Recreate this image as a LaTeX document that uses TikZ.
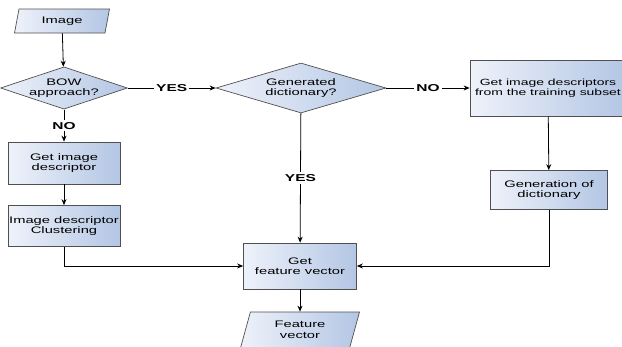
\documentclass[tikz,border=0pt]{standalone}
\usepackage{fontspec}
\setmainfont{Liberation Sans}[FakeStretch=1.55]
\usetikzlibrary{shapes.geometric, arrows.meta}
\definecolor{boxlight}{HTML}{EEF2FA}
\definecolor{boxdark}{HTML}{B3C6E4}
\definecolor{boxline}{HTML}{505050}
\tikzset{>={Stealth[length=6pt,width=5pt]},
every node/.style={font=\fontsize{9.5}{10.5}\selectfont, align=center},
process/.style={draw=boxline, line width=0.7pt, left color=boxlight, right color=boxdark, inner sep=0pt},
decision/.style={process, diamond, shape aspect=3, inner sep=0pt},
io/.style={process, trapezium, trapezium left angle=62, trapezium right angle=118, trapezium stretches body},
answer/.style={fill=white, inner sep=2pt, font=\fontsize{10}{11}\selectfont\bfseries},
flow/.style={->, line width=0.8pt}}
\begin{document}
\begin{tikzpicture}[x=1pt, y=-1pt]
\clip (0,0) rectangle (622,346);
\useasboundingbox (0,0) rectangle (622,346);
% left column
\node[io, minimum width=95pt, minimum height=24pt] (img) at (62,21) {Image};
\node[decision, minimum width=118pt, minimum height=40pt] (bow) at (64,88) {BOW\\approach?};
\node[process, minimum width=112pt, minimum height=42pt] (desc) at (64,163) {Get image\\descriptor};
\node[process, minimum width=112pt, minimum height=41pt] (clus) at (64,226) {Image descriptor\\Clustering};
% middle column
\node[decision, minimum width=170pt, minimum height=50pt] (gen) at (301,88) {Generated\\dictionary?};
\node[process, minimum width=113pt, minimum height=46pt] (fv) at (300,266) {Get\\feature vector};
\node[io, trapezium left angle=60, trapezium right angle=120, minimum width=119pt, minimum height=36pt] (feat) at (300,330) {Feature\\vector};
% right column
\node[process, minimum width=156pt, minimum height=56pt, font=\fontsize{9}{10.5}\selectfont] (train) at (548,88) {Get image descriptors\\from the training subset};
\node[process, minimum width=117pt, minimum height=39pt] (dict) at (549,190) {Generation of\\dictionary};
% connectors
\draw[flow] (img) -- (bow);
\draw[flow] (bow) -- node[answer] {YES} (gen);
\draw[flow] (bow) -- node[answer] {NO} (desc);
\draw[flow] (desc) -- (clus);
\draw[flow] (clus) |- (fv);
\draw[flow] (gen) -- node[answer] {NO} (train);
\draw[flow] (gen) -- node[answer] {YES} (fv);
\draw[flow] (train) -- (dict);
\draw[flow] (dict) |- (fv);
\draw[flow] (fv) -- (feat);
\end{tikzpicture}
\end{document}
